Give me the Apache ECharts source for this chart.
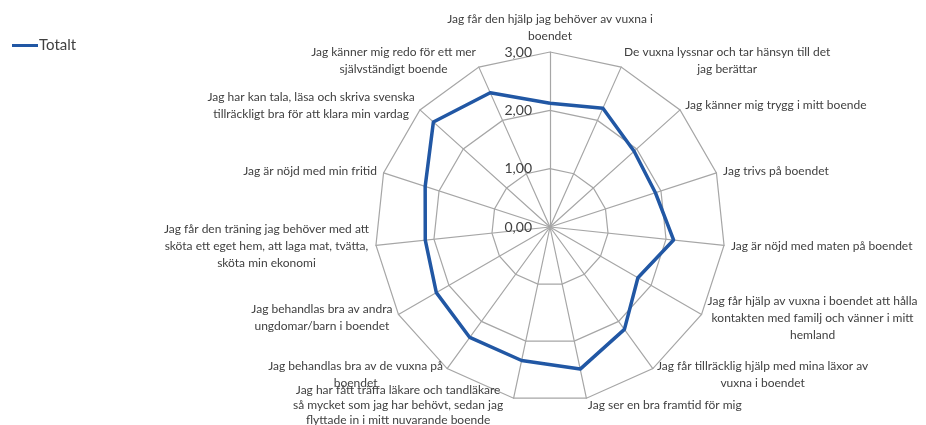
<!DOCTYPE html>
<html><head><meta charset="utf-8">
<script src="https://cdn.jsdelivr.net/npm/echarts@6/dist/echarts.min.js"></script>
<style>html,body{margin:0;padding:0;background:#fff}#c{width:926px;height:425px}</style>
</head><body><div id="c"></div>
<script>
const categories = [
  "Jag får den hjälp jag behöver av vuxna i\nboendet",
  "De vuxna lyssnar och tar hänsyn till det\njag berättar",
  "Jag känner mig trygg i mitt boende",
  "Jag trivs på boendet",
  "Jag är nöjd med maten på boendet",
  "Jag får hjälp av vuxna i boendet att hålla\nkontakten med familj och vänner i mitt\nhemland",
  "Jag får tillräcklig hjälp med mina läxor av\nvuxna i boendet",
  "Jag ser en bra framtid för mig",
  "Jag har fått träffa läkare och tandläkare\nså mycket som jag har behövt, sedan jag\nflyttade in i mitt nuvarande boende",
  "Jag behandlas bra av de vuxna på\nboendet",
  "Jag behandlas bra av andra\nungdomar/barn i boendet",
  "Jag får den träning jag behöver med att\nsköta ett eget hem, att laga mat, tvätta,\nsköta min ekonomi",
  "Jag är nöjd med min fritid",
  "Jag har kan tala, läsa och skriva svenska\ntillräckligt bra för att klara min vardag",
  "Jag känner mig redo för ett mer\nsjälvständigt boende"
];
const seriesName = "Totalt";
const totalt = [2.12, 2.23, 1.94, 1.90, 2.13, 1.74, 2.17, 2.49, 2.34, 2.34, 2.25, 2.15, 2.25, 2.69, 2.52];
const axisMax = 3;
const tickLabels = ["0,00", "1,00", "2,00", "3,00"];

// ECharts radar runs counter-clockwise; reorder so the chart reads clockwise like the reference
function clockwise(arr) { return [arr[0]].concat(arr.slice(1).reverse()); }

const FONT = 'Lato';
const TXT = '#404040';
const compactName = categories[8];
const indicator = clockwise(categories).map((n, i) => {
  const o = { name: n, min: 0, max: axisMax };
  if (i === 0) o.axisLabel = { show: true };
  return o;
});
const chart = echarts.init(document.getElementById('c'));
chart.setOption({
  animation: false,
  legend: {
    left: 7, top: 33,
    icon: 'rect', itemWidth: 26, itemHeight: 3, itemGap: 10,
    textStyle: { fontFamily: FONT, fontSize: 15, color: TXT, padding: [0, 0, 0, -4] },
    data: [seriesName]
  },
  radar: {
    center: [550, 227],
    radius: 175,
    startAngle: 90,
    shape: 'polygon',
    splitNumber: 3,
    nameGap: 7,
    indicator: indicator,
    axisName: {
      color: TXT, fontFamily: FONT, fontSize: 12, lineHeight: 17,
      formatter: function (name) {
        const s = name === compactName ? 'd' : 'c';
        return name.split('\n').map(l => '{' + s + '|' + l + '}').join('\n');
      },
      rich: {
        c: { align: 'center', color: TXT, fontFamily: FONT, fontSize: 12, lineHeight: 17 },
        d: { align: 'center', color: TXT, fontFamily: FONT, fontSize: 12, lineHeight: 15, padding: [0, 9, 0, 0] }
      }
    },
    splitLine: { lineStyle: { color: '#a6a6a6', width: 1.2 } },
    splitArea: { show: false },
    axisLine: { lineStyle: { color: '#a6a6a6', width: 1.2 } },
    axisTick: { show: false },
    axisLabel: {
      show: false, color: TXT, fontFamily: FONT, fontSize: 14, margin: 18,
      formatter: v => tickLabels[Math.round(v)] || ''
    }
  },
  series: [{
    type: 'radar',
    name: seriesName,
    symbol: 'none',
    lineStyle: { color: '#2157a4', width: 3.5 },
    itemStyle: { color: '#2157a4' },
    data: [{ value: clockwise(totalt), name: seriesName }]
  }]
});
</script></body></html>
